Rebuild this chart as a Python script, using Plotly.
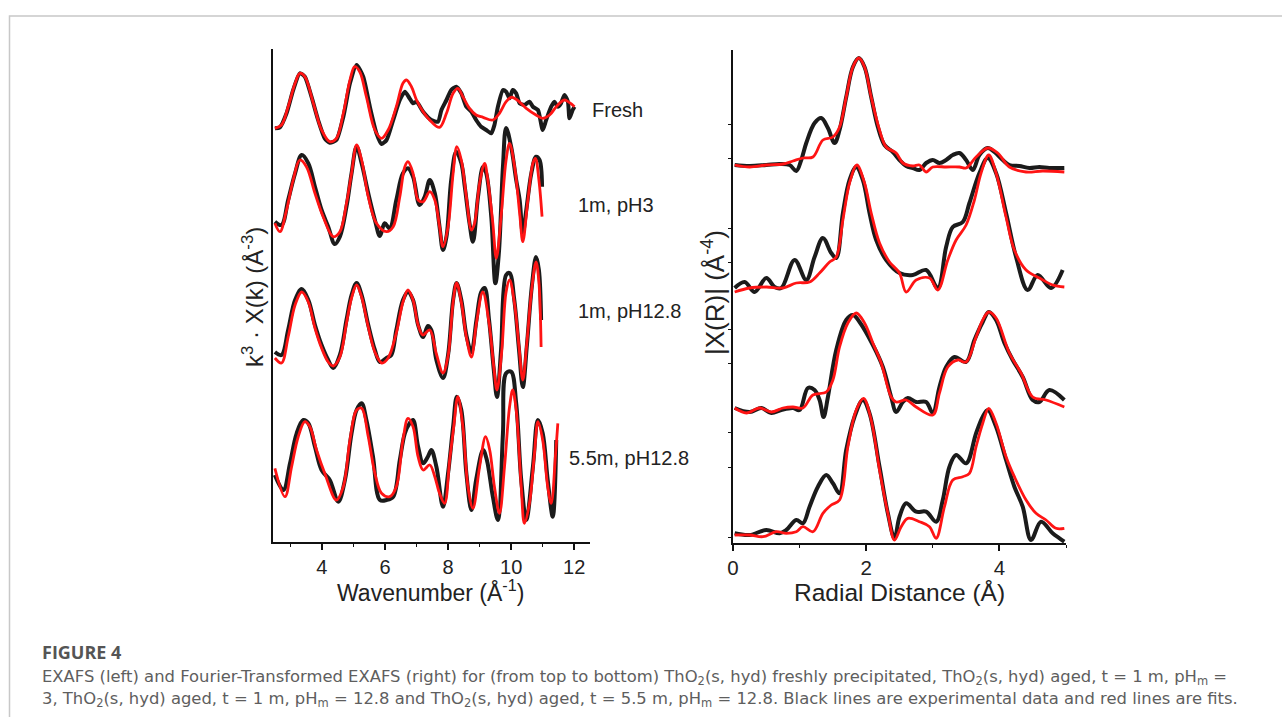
import plotly.graph_objects as go

W, H = 1282, 717

# ---------------- EXAFS (left) : k (1/Å) vs stacked k3*chi (arb. units) ----------------
k_fresh_exp = [2.51,2.67,2.88,3.09,3.30,3.46,3.67,3.88,4.09,4.25,4.46,4.68,4.89,5.10,5.31,5.52,5.73,5.89,6.05,6.26,
               6.47,6.63,6.78,6.89,7.00,7.21,7.47,7.68,7.79,7.95,8.10,8.26,8.42,8.58,8.74,8.89,9.05,9.21,9.37,9.47,
               9.58,9.74,9.84,9.95,10.05,10.16,10.27,10.42,10.58,10.69,10.85,11.00,11.11,11.27,11.37,11.48,11.58,11.69,11.80,11.85,
               11.95,12.01]
chi_fresh_exp = [41.37,41.47,42.87,45.2,46.87,46.53,44.53,42.2,40.37,39.93,40.2,42.53,45.87,47.7,46.53,43.53,40.87,39.8,40.2,42.2,
                 44.2,45.03,44.37,43.87,44.03,43.03,42.2,42.03,43.2,44.2,45.2,45.53,44.87,43.53,43.03,42.2,41.53,41.2,40.87,41.7,
                 43.53,45.2,45.03,44.37,45.2,44.87,43.87,43.7,44.03,43.53,43.2,41.2,42.2,43.53,44.03,43.53,43.87,44.7,44.03,42.37,
                 43.2,43.53]
k_fresh_fit = [2.51,2.72,2.93,3.15,3.30,3.46,3.73,3.99,4.25,4.46,4.68,4.89,5.04,5.20,5.41,5.68,5.89,6.10,6.36,6.57,
               6.68,6.84,7.00,7.21,7.47,7.73,7.95,8.16,8.31,8.47,8.68,8.89,9.11,9.42,9.63,9.84,10.00,10.16,10.48,10.79,
               11.00,11.22,11.43,11.69,11.85,12.01]
chi_fresh_fit = [41.37,41.7,43.53,45.87,46.87,46.53,43.87,41.2,40.03,40.37,42.87,46.2,47.53,47.03,44.53,41.2,40.37,41.2,43.53,45.87,
                 46.2,45.53,44.2,43.03,42.03,41.47,42.87,44.87,45.37,44.53,43.37,42.7,42.47,42.2,42.87,44.03,44.47,44.27,43.37,42.7,
                 42.37,42.7,43.53,44.2,43.93,43.53]

k_ph3_exp = [2.51,2.72,2.93,3.15,3.36,3.57,3.78,3.99,4.20,4.41,4.57,4.78,4.94,5.10,5.26,5.47,5.68,5.84,5.99,6.15,
             6.36,6.57,6.73,6.89,7.10,7.26,7.42,7.58,7.73,7.84,7.95,8.10,8.26,8.42,8.53,8.68,8.79,8.95,9.11,9.21,
             9.37,9.50,9.61,9.74,9.84,10.00,10.16,10.27,10.37,10.48,10.64,10.79,10.90,10.98]
chi_ph3_exp = [32.03,31.70,34.2,36.87,38.7,37.87,35.53,33.2,31.53,29.8,30.53,33.53,36.87,39.53,37.87,34.87,32.2,30.6,31.87,31.37,
               34.2,36.87,37.37,36.53,33.7,34.53,36.2,34.87,31.53,29.2,30.53,36.2,39.03,37.87,35.53,31.87,30.03,34.53,37.53,36.87,
               32.53,25.87,28.87,37.53,41.4,39.53,36.2,34.2,30.87,33.2,36.87,38.53,38.2,35.53]
k_ph3_fit = [2.51,2.67,2.88,3.09,3.30,3.51,3.78,4.04,4.36,4.57,4.78,4.94,5.10,5.26,5.47,5.73,6.05,6.26,6.47,6.63,
             6.73,6.89,7.05,7.21,7.42,7.58,7.73,7.84,8.00,8.16,8.28,8.42,8.58,8.74,8.84,9.00,9.16,9.26,9.42,9.53,
             9.69,9.84,9.95,10.11,10.27,10.37,10.53,10.69,10.77,10.88,10.98]
chi_ph3_fit = [31.87,31.03,33.2,36.2,38.2,37.53,34.87,32.53,30.53,31.03,33.87,36.87,39.7,38.2,34.53,31.87,31.03,31.53,34.53,37.53,
               38.03,36.87,34.2,34.03,35.03,34.2,31.53,29.53,31.53,36.87,39.53,38.2,34.53,31.2,31.87,35.87,37.87,36.2,31.87,28.37,
               32.87,38.2,39.87,37.53,32.87,30.03,34.2,37.87,38.37,36.2,32.53]

k_ph128_exp = [2.51,2.72,2.93,3.15,3.36,3.57,3.78,3.99,4.20,4.36,4.57,4.78,4.94,5.10,5.26,5.47,5.68,5.84,6.05,6.20,
               6.36,6.57,6.73,6.89,7.05,7.21,7.36,7.47,7.63,7.84,8.00,8.16,8.27,8.42,8.58,8.74,8.90,9.05,9.16,9.30,
               9.45,9.55,9.68,9.84,9.95,10.10,10.25,10.37,10.50,10.66,10.79,10.88,10.95]
chi_ph128_exp = [19.0,18.7,21.2,24.2,25.3,24.2,21.7,19.7,18.2,17.4,18.7,22.2,24.7,25.9,24.7,21.7,19.2,18.0,18.4,18.7,
                 21.2,24.2,25.0,24.2,21.7,20.5,21.6,21.2,18.2,16.4,18.7,24.2,25.9,24.2,20.7,19.0,22.2,25.0,25.4,22.2,
                 17.2,14.5,19.2,26.7,26.9,24.2,19.2,15.5,19.7,25.7,28.5,27.2,22.2]
k_ph128_fit = [2.51,2.72,2.93,3.15,3.36,3.57,3.78,3.99,4.20,4.36,4.57,4.78,4.94,5.10,5.26,5.47,5.68,5.90,6.10,6.36,
               6.57,6.73,6.89,7.05,7.20,7.42,7.63,7.84,8.00,8.16,8.27,8.42,8.58,8.74,8.90,9.10,9.30,9.45,9.55,9.70,
               9.84,9.95,10.10,10.25,10.37,10.50,10.66,10.79,10.88,10.95]
chi_ph128_fit = [18.4,17.9,20.5,23.7,25.0,24.0,21.4,19.4,18.0,17.6,18.5,21.9,24.4,25.7,24.5,21.5,19.0,17.9,18.4,20.9,
                 24.0,25.2,24.2,21.7,20.7,21.2,18.8,16.9,18.6,24.0,25.9,24.0,20.5,18.5,21.9,25.0,21.9,17.5,15.2,19.0,
                 25.0,26.2,24.0,19.5,16.2,20.0,25.5,28.0,26.0,19.5]

k_55_exp = [2.51,2.78,2.99,3.20,3.41,3.57,3.78,3.99,4.25,4.52,4.73,4.94,5.10,5.26,5.41,5.62,5.84,6.05,6.26,6.47,
            6.63,6.78,6.89,7.05,7.21,7.36,7.47,7.63,7.84,8.00,8.16,8.28,8.42,8.58,8.74,8.89,9.11,9.23,9.42,9.58,
            9.74,9.84,10.00,10.16,10.32,10.48,10.69,10.85,11.00,11.16,11.32,11.43]
chi_55_exp = [6.7,5.2,7.87,10.87,12.2,11.87,9.53,7.2,6.2,4.03,6.2,10.87,13.2,13.87,12.2,8.53,4.2,4.2,4.53,8.2,
              10.87,11.87,12.2,9.53,7.87,8.53,9.2,7.53,3.53,6.87,11.53,14.53,13.2,6.87,3.2,6.2,9.2,8.2,4.53,2.2,
              10.87,16.87,17.03,13.87,6.2,2.2,7.53,12.2,10.87,6.2,2.53,10.2]
k_55_fit = [2.51,2.83,3.04,3.25,3.46,3.62,3.83,4.09,4.46,4.68,4.89,5.10,5.26,5.47,5.68,5.89,6.15,6.36,6.57,6.73,
            6.89,7.05,7.21,7.42,7.58,7.73,7.89,8.05,8.18,8.31,8.47,8.63,8.79,9.00,9.19,9.32,9.47,9.63,9.79,9.95,
            10.05,10.16,10.32,10.42,10.58,10.74,10.85,11.00,11.16,11.27,11.41,11.48]
chi_55_fit = [7.37,4.53,7.53,10.53,12.03,11.53,9.2,6.87,4.2,5.53,10.2,13.2,13.37,10.53,6.87,4.87,4.53,5.53,10.2,12.37,
              11.53,8.53,7.2,7.7,6.53,4.87,3.87,8.2,11.53,14.53,11.53,5.53,3.37,7.53,10.53,9.2,5.53,2.87,7.53,13.53,
              15.2,13.2,5.53,1.87,3.87,8.87,12.03,10.2,5.53,3.87,8.87,11.87]

# ---------------- FT-EXAFS (right) : R (Å) vs stacked |chi(R)| (arb. units) ----------------
r_fresh_exp = [0.025,0.25,0.5,0.70,0.85,0.95,1.025,1.10,1.225,1.325,1.425,1.525,1.60,1.70,1.80,1.89,1.975,2.075,2.175,2.275,
               2.40,2.50,2.60,2.70,2.80,2.90,3.00,3.10,3.20,3.30,3.40,3.50,3.60,3.70,3.825,3.925,4.05,4.15,4.30,4.45,
               4.60,4.75,4.975]
ft_fresh_exp = [37.8,37.7,37.8,37.9,37.8,37.2,38.3,40.0,42.0,42.5,41.5,40.0,41.3,44.6,47.6,48.5,47.6,44.6,41.6,39.8,
                39.1,38.3,37.7,37.5,37.3,38.0,38.3,38.0,38.3,38.8,39.0,38.3,37.3,38.8,39.5,39.1,38.3,37.8,37.7,37.5,
                37.6,37.5,37.5]
r_fresh_fit = [0.025,0.25,0.5,0.75,0.90,1.05,1.20,1.35,1.50,1.60,1.70,1.80,1.89,1.975,2.075,2.20,2.30,2.45,2.55,2.70,
               2.80,2.90,3.00,3.20,3.40,3.50,3.65,3.825,3.975,4.15,4.40,4.65,4.975]
ft_fresh_fit = [37.8,37.6,37.8,37.9,38.2,38.5,38.6,40.3,40.6,41.6,44.6,47.6,48.5,47.6,44.6,41.3,39.6,39.0,38.0,37.7,
                37.8,37.1,37.6,37.6,37.6,37.5,38.6,39.5,39.0,37.6,37.1,37.2,37.1]

r_ph3_exp = [0.025,0.175,0.325,0.5,0.625,0.725,0.925,1.10,1.225,1.35,1.475,1.55,1.65,1.75,1.85,1.95,2.05,2.15,2.30,2.50,
             2.70,2.90,3.075,3.20,3.30,3.45,3.55,3.70,3.825,3.95,4.10,4.25,4.425,4.575,4.775,4.95]
ft_ph3_exp = [25.5,26.1,25.1,26.5,25.6,25.5,28.3,26.3,28.6,30.5,29.0,28.5,33.0,36.3,37.6,36.3,33.0,30.3,28.3,27.0,
              26.8,27.3,25.5,29.6,31.6,32.1,34.0,37.0,38.5,37.0,33.0,28.6,25.3,26.8,25.5,27.3]
r_ph3_fit = [0.025,0.25,0.5,0.75,0.95,1.15,1.30,1.45,1.55,1.65,1.75,1.86,1.975,2.075,2.20,2.35,2.50,2.60,2.75,2.95,
             3.075,3.225,3.35,3.50,3.625,3.725,3.84,3.95,4.10,4.225,4.40,4.60,4.80,4.975]
ft_ph3_fit = [25.1,25.5,25.6,25.5,26.0,26.1,27.0,28.1,28.6,32.3,36.0,37.8,36.0,33.0,30.0,28.1,27.0,25.1,26.3,26.5,
              25.3,28.3,30.3,31.8,34.3,37.0,38.8,37.0,32.6,29.3,27.3,26.5,25.8,25.6]

r_ph128_exp = [0.025,0.25,0.425,0.575,0.725,0.90,1.00,1.125,1.225,1.30,1.36,1.425,1.55,1.70,1.80,1.90,2.10,2.25,2.375,2.45,
               2.55,2.625,2.75,2.90,3.00,3.10,3.20,3.325,3.50,3.625,3.75,3.84,3.95,4.075,4.20,4.35,4.50,4.60,4.75,4.975]
ft_ph128_exp = [13.5,13.1,13.5,13.0,13.3,13.5,13.3,15.5,15.3,14.3,12.6,14.6,19.3,22.3,22.8,22.1,19.8,17.6,14.6,13.1,
                14.1,14.5,14.1,14.1,13.0,15.6,17.6,18.6,18.1,20.3,22.1,23.1,22.3,20.0,18.3,16.6,14.3,14.1,15.3,14.3]
r_ph128_fit = [0.025,0.20,0.40,0.575,0.75,0.90,1.05,1.20,1.40,1.50,1.60,1.725,1.85,1.975,2.10,2.225,2.375,2.45,2.60,2.75,
               3.00,3.10,3.225,3.375,3.50,3.65,3.75,3.84,3.95,4.15,4.325,4.50,4.70,4.975]
ft_ph128_fit = [13.5,13.0,13.5,13.1,13.5,13.6,13.5,14.8,15.1,16.3,19.6,22.0,23.0,22.0,20.0,18.0,14.6,14.1,14.3,13.6,
                12.8,15.0,17.6,18.3,18.1,20.6,22.3,23.1,22.5,19.0,17.0,14.6,14.3,13.6]

r_55_exp = [0.025,0.25,0.5,0.70,0.80,0.95,1.05,1.15,1.275,1.40,1.50,1.60,1.70,1.825,1.95,2.05,2.20,2.325,2.425,2.50,
            2.60,2.75,2.90,3.05,3.15,3.25,3.35,3.50,3.65,3.75,3.825,3.95,4.10,4.225,4.35,4.475,4.625,4.80,4.975]
ft_55_exp = [0.97,0.8,1.3,0.97,1.3,2.3,1.97,3.63,5.63,6.8,5.97,4.97,9.3,12.63,14.3,12.97,7.63,2.97,0.47,2.63,
             3.97,3.13,3.13,2.13,4.3,7.63,8.8,7.97,10.97,12.63,13.3,11.63,8.3,5.63,3.63,0.3,2.13,0.97,0.13]
r_55_fit = [0.025,0.25,0.45,0.65,0.80,0.95,1.05,1.20,1.35,1.475,1.60,1.725,1.85,1.96,2.075,2.20,2.325,2.425,2.525,2.625,
            2.80,2.95,3.05,3.175,3.30,3.45,3.55,3.65,3.75,3.84,3.95,4.10,4.225,4.40,4.55,4.70,4.85,4.975]
ft_55_fit = [0.8,0.8,0.63,1.13,0.97,1.13,1.63,1.13,2.97,3.8,4.3,9.63,13.3,14.47,12.3,7.3,2.97,0.3,1.63,2.47,
             2.13,1.63,0.47,3.63,6.3,6.63,6.97,9.63,11.97,13.47,11.97,8.63,6.63,4.3,2.97,2.3,1.47,1.47]

sample_labels = ["Fresh", "1m, pH3", "1m, pH12.8", "5.5m, pH12.8"]
x_ticks_k = [4, 6, 8, 10, 12]
x_ticks_r = [0, 2, 4]
y_ticks_r = [0.6, 7.6, 11.1, 18.0, 21.4, 28.1, 31.5, 38.5, 41.9]

BLACK = "#1b1b1b"
RED = "#ff1414"
FONT = "Liberation Sans, Arial, sans-serif"


def px(x):
    return x / W


def py(y):
    return 1 - y / H


fig = go.Figure()

exp_left = [(k_fresh_exp, chi_fresh_exp), (k_ph3_exp, chi_ph3_exp), (k_ph128_exp, chi_ph128_exp), (k_55_exp, chi_55_exp)]
fit_left = [(k_fresh_fit, chi_fresh_fit), (k_ph3_fit, chi_ph3_fit), (k_ph128_fit, chi_ph128_fit), (k_55_fit, chi_55_fit)]
exp_right = [(r_fresh_exp, ft_fresh_exp), (r_ph3_exp, ft_ph3_exp), (r_ph128_exp, ft_ph128_exp), (r_55_exp, ft_55_exp)]
fit_right = [(r_fresh_fit, ft_fresh_fit), (r_ph3_fit, ft_ph3_fit), (r_ph128_fit, ft_ph128_fit), (r_55_fit, ft_55_fit)]

for i, (x, y) in enumerate(exp_left):
    fig.add_trace(go.Scatter(x=x, y=y, mode="lines", xaxis="x", yaxis="y",
                             line=dict(color=BLACK, width=4, shape="spline", smoothing=0.6 if i == 0 else 1.0)))
for x, y in fit_left:
    fig.add_trace(go.Scatter(x=x, y=y, mode="lines", xaxis="x", yaxis="y",
                             line=dict(color=RED, width=2.8, shape="spline", smoothing=1.0)))
for x, y in exp_right:
    fig.add_trace(go.Scatter(x=x, y=y, mode="lines", xaxis="x2", yaxis="y2",
                             line=dict(color=BLACK, width=4, shape="spline", smoothing=1.0)))
for x, y in fit_right:
    fig.add_trace(go.Scatter(x=x, y=y, mode="lines", xaxis="x2", yaxis="y2",
                             line=dict(color=RED, width=2.8, shape="spline", smoothing=1.0)))

axis_common = dict(showgrid=False, zeroline=False, showline=True, linecolor="#111", linewidth=1.6,
                   tickcolor="#111", automargin=False)

fig.update_layout(
    width=W, height=H, margin=dict(l=0, r=0, t=0, b=0),
    paper_bgcolor="white", plot_bgcolor="white", showlegend=False,
    xaxis=dict(domain=[px(273), px(590)], range=[2.45, 12.5], anchor="y",
               tickmode="array", tickvals=x_ticks_k, ticks="outside", ticklen=6, tickwidth=1.5,
               tickfont=dict(family=FONT, size=20, color="#222"),
               minor=dict(dtick=1, tick0=0, ticks="outside", ticklen=3, tickwidth=1.2, tickcolor="#111"),
               **axis_common),
    yaxis=dict(domain=[py(542), py(49)], range=[0, 49.3], anchor="x", ticks="", showticklabels=False,
               **axis_common),
    xaxis2=dict(domain=[px(733), px(1066)], range=[0, 5], anchor="y2",
                tickmode="array", tickvals=x_ticks_r, ticks="outside", ticklen=6, tickwidth=1.5,
                tickfont=dict(family=FONT, size=20.5, color="#222"),
                minor=dict(dtick=1, tick0=0, ticks="outside", ticklen=3, tickwidth=1.2, tickcolor="#111"),
                **axis_common),
    yaxis2=dict(domain=[py(543), py(50)], range=[0, 49.3], anchor="x2",
                tickmode="array", tickvals=y_ticks_r, ticks="outside", ticklen=3, tickwidth=1.2,
                showticklabels=False, **axis_common),
)

ann = []
label_pos = [(591, 110), (577, 205), (577, 311), (568, 458)]
for text, (x, y) in zip(sample_labels, label_pos):
    ann.append(dict(text=text, x=px(x), y=py(y), xref="paper", yref="paper", xanchor="left", yanchor="middle",
                    borderpad=0, showarrow=False, font=dict(family=FONT, size=20, color="#222")))

ann.append(dict(text="Wavenumber (Å<sup>-1</sup>)", x=px(431), y=py(591), xref="paper", yref="paper",
                xanchor="center", yanchor="middle", showarrow=False, font=dict(family=FONT, size=23, color="#222")))
ann.append(dict(text="Radial Distance (Å)", x=px(900), y=py(592), xref="paper", yref="paper",
                xanchor="center", yanchor="middle", showarrow=False, font=dict(family=FONT, size=24.5, color="#222")))
ann.append(dict(text="k<sup>3</sup> · X(k) (Å<sup>-3</sup>)", x=px(253), y=py(297), xref="paper", yref="paper",
                xanchor="center", yanchor="middle", textangle=-90, showarrow=False,
                font=dict(family=FONT, size=24, color="#222")))
ann.append(dict(text="|X(R)| (Å<sup>-4</sup>)", x=px(713), y=py(293), xref="paper", yref="paper",
                xanchor="center", yanchor="middle", textangle=-90, showarrow=False,
                font=dict(family=FONT, size=26, color="#222")))

ann.append(dict(text="<b>FIGURE 4</b>", x=px(41), y=py(652), xref="paper", yref="paper", xanchor="left",
                yanchor="middle", borderpad=0, showarrow=False,
                font=dict(family="Open Sans, sans-serif", size=18, color="#555")))
line1 = ("EXAFS (left) and Fourier-Transformed EXAFS (right) for (from top to bottom) ThO<sub>2</sub>(s, hyd) freshly "
         "precipitated, ThO<sub>2</sub>(s, hyd) aged, t = 1 m, pH<sub>m</sub> =")
line2 = ("3, ThO<sub>2</sub>(s, hyd) aged, t = 1 m, pH<sub>m</sub> = 12.8 and ThO<sub>2</sub>(s, hyd) aged, t = 5.5 m, "
         "pH<sub>m</sub> = 12.8. Black lines are experimental data and red lines are fits.")
CAP = "DejaVu Sans, sans-serif"
ann.append(dict(text=line1, x=px(41), y=py(666), xref="paper", yref="paper", xanchor="left", yanchor="top",
                borderpad=0, showarrow=False, font=dict(family=CAP, size=16.4, color="#5e5e5e")))
ann.append(dict(text=line2, x=px(41), y=py(688), xref="paper", yref="paper", xanchor="left", yanchor="top",
                borderpad=0, showarrow=False, font=dict(family=CAP, size=16.4, color="#5e5e5e")))
fig.update_layout(annotations=ann)

fig.add_shape(type="rect", xref="paper", yref="paper", x0=px(9.5), y0=py(16), x1=1.02, y1=-0.05,
              line=dict(color="#c8c8c8", width=1.5), fillcolor="rgba(0,0,0,0)", layer="below")

fig.write_html("out.html")
